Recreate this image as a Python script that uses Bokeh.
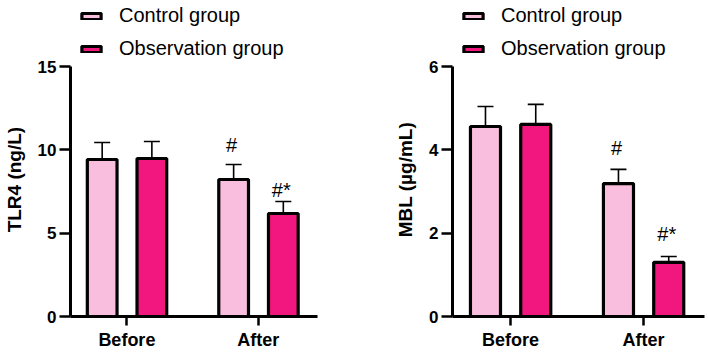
from bokeh.plotting import figure
from bokeh.models import (ColumnDataSource, Range1d, FixedTicker, Whisker, TeeHead,
                          Legend, LegendItem)
from bokeh.layouts import row
from bokeh.embed import file_html
from bokeh.resources import INLINE
from bokeh.core.properties import value

# ---------------- data ----------------
categories = ["Before", "After"]
cat_pos = [1, 2]

tlr4_control = [9.42, 8.22]
tlr4_control_sd = [1.02, 0.90]
tlr4_obs = [9.48, 6.18]
tlr4_obs_sd = [1.02, 0.72]
tlr4_control_marks = ["", "#"]
tlr4_obs_marks = ["", "#*"]
tlr4_control_mark_y = [0, 9.84]
tlr4_obs_mark_y = [0, 7.14]
tlr4_ticks = [0, 5, 10, 15]
tlr4_axis_max = 15

mbl_control = [4.56, 3.19]
mbl_control_sd = [0.48, 0.34]
mbl_obs = [4.61, 1.30]
mbl_obs_sd = [0.48, 0.14]
mbl_control_marks = ["", "#"]
mbl_obs_marks = ["", "#*"]
mbl_control_mark_y = [0, 3.86]
mbl_obs_mark_y = [0, 1.78]
mbl_ticks = [0, 2, 4, 6]
mbl_axis_max = 6

series_names = ["Control group", "Observation group"]
colors = ["#F9BEDD", "#F2177F"]

FONT = "Liberation Sans"
OFFSETS = [-0.188, 0.19]
BAR_W = 0.226
AXIS_PX = 250.0     # pixel length of the drawn y axis
FRAME_PX = 316.0    # frame height (extends to top of canvas for the legend)
PAD = "\u00a0" * 8  # keeps the rotated axis title centred on the drawn axis


def make_panel(ylabel, ymax, yticks, means, sds, marks, marks_y,
               border_left, border_right, xr):
    ytop = ymax * FRAME_PX / AXIS_PX
    p = figure(width=354, height=352, output_backend="svg", toolbar_location=None,
               x_range=Range1d(*xr), y_range=Range1d(0, ytop),
               min_border_left=border_left, min_border_right=border_right,
               min_border_top=0, min_border_bottom=36)
    p.outline_line_color = None
    p.xgrid.visible = False
    p.ygrid.visible = False

    renderers = []
    for k in range(2):
        xs = [c + OFFSETS[k] for c in cat_pos]
        src = ColumnDataSource(dict(
            x=xs, top=means[k],
            upper=[m + s for m, s in zip(means[k], sds[k])],
            mark=marks[k], mark_y=marks_y[k]))
        w = Whisker(source=src, base="x", upper="upper", lower="top",
                    dimension="height", line_color="black", line_width=1.6,
                    upper_head=TeeHead(size=16, line_color="black", line_width=1.6),
                    lower_head=None, level="underlay")
        p.add_layout(w)
        r = p.vbar(x="x", top="top", width=BAR_W, bottom=0, source=src,
                   fill_color=colors[k], line_color="black", line_width=3.2)
        renderers.append(r)
        p.text(x="x", y="mark_y", text="mark", source=src,
               text_font=value(FONT), text_font_size="20px", text_color="black",
               text_align="center", text_baseline="alphabetic",
               x_offset=-2, y_offset=-8)

    legend = Legend(items=[LegendItem(label=series_names[k], renderers=[renderers[k]])
                           for k in range(2)],
                    location=(9, 256), padding=0, margin=0,
                    border_line_color=None, background_fill_alpha=0,
                    glyph_width=24, glyph_height=8, label_standoff=16, spacing=10,
                    label_text_font_size="20px", label_text_font=FONT,
                    label_text_color="black")
    p.add_layout(legend)

    for ax in (p.xaxis[0], p.yaxis[0]):
        ax.axis_line_width = 3
        ax.axis_line_color = "black"
        ax.major_tick_line_width = 2.5
        ax.major_tick_line_color = "black"
        ax.minor_tick_line_color = None
        ax.major_tick_in = 0
        ax.major_label_text_font = FONT
        ax.major_label_text_font_style = "bold"
        ax.major_label_text_color = "black"

    p.xaxis.ticker = FixedTicker(ticks=cat_pos)
    p.xaxis.major_label_overrides = {c: n for c, n in zip(cat_pos, categories)}
    p.xaxis.major_tick_out = 9
    p.xaxis.major_label_standoff = 4
    p.xaxis.major_label_text_font_size = "18px"

    p.yaxis.ticker = FixedTicker(ticks=yticks)
    p.yaxis.bounds = (0, ymax)
    p.yaxis.major_tick_out = 11
    p.yaxis.major_label_standoff = 3
    p.yaxis.major_label_text_font_size = "17px"
    p.yaxis.axis_label = ylabel + PAD
    p.yaxis.axis_label_text_font = FONT
    p.yaxis.axis_label_text_font_style = "bold"
    p.yaxis.axis_label_text_font_size = "19px"
    p.yaxis.axis_label_text_color = "black"
    p.yaxis.axis_label_standoff = 10
    return p


p1 = make_panel("TLR4 (ng/L)", tlr4_axis_max, tlr4_ticks,
                [tlr4_control, tlr4_obs], [tlr4_control_sd, tlr4_obs_sd],
                [tlr4_control_marks, tlr4_obs_marks],
                [tlr4_control_mark_y, tlr4_obs_mark_y],
                67, 37, (0.571, 2.45))
p2 = make_panel("MBL (µg/mL)", mbl_axis_max, mbl_ticks,
                [mbl_control, mbl_obs], [mbl_control_sd, mbl_obs_sd],
                [mbl_control_marks, mbl_obs_marks],
                [mbl_control_mark_y, mbl_obs_mark_y],
                98, 4, (0.564, 2.459))

layout = row(p1, p2)
open("out.html", "w").write(file_html(layout, INLINE))
